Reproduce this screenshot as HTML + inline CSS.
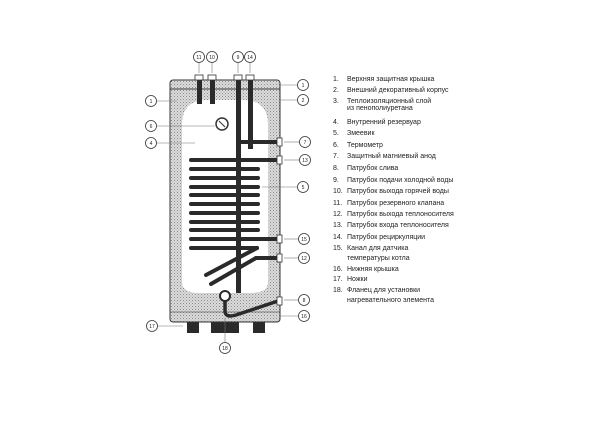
<!DOCTYPE html>
<html><head><meta charset="utf-8"><style>
html,body{margin:0;padding:0;background:#fff;width:600px;height:445px;overflow:hidden}
svg{display:block}
text{font-family:"Liberation Sans","DejaVu Sans",sans-serif}
</style></head><body>
<svg width="600" height="445" viewBox="0 0 600 445" xmlns="http://www.w3.org/2000/svg">
<defs>
<pattern id="dots" width="3" height="3" patternUnits="userSpaceOnUse">
<rect width="3" height="3" fill="#dcdcdc"/><rect x="0" y="0" width="1" height="1" fill="#8a8a8a"/><rect x="1.5" y="1.5" width="1" height="1" fill="#a0a0a0"/>
</pattern>
</defs>
<rect x="187" y="318" width="12" height="15" fill="#2a2a2a"/>
<rect x="211" y="318" width="28" height="15" fill="#2a2a2a"/>
<rect x="253" y="318" width="12" height="15" fill="#2a2a2a"/>
<rect x="170" y="80" width="110" height="242" rx="3" fill="url(#dots)" stroke="#333" stroke-width="1"/>
<line x1="170" y1="89" x2="280" y2="89" stroke="#333" stroke-width="1"/>
<line x1="170" y1="312" x2="280" y2="312" stroke="#333" stroke-width="0.6"/>
<path d="M182 125 Q182 100 207 100 L243 100 Q268 100 268 125 L268 282 Q268 293 250 293 L200 293 Q182 293 182 282 Z" fill="#fff"/>
<g fill="#2a2a2a">
<rect x="197" y="77" width="5" height="27"/>
<rect x="210" y="77" width="5" height="27"/>
<rect x="236" y="77" width="5" height="216"/>
<rect x="248" y="77" width="5" height="72"/>
<rect x="238" y="140" width="40" height="4"/>
</g>
<g fill="#fff" stroke="#333" stroke-width="0.8">
<rect x="195" y="75" width="8" height="5"/><rect x="208" y="75" width="8" height="5"/>
<rect x="234" y="75" width="8" height="5"/><rect x="246" y="75" width="8" height="5"/>
</g>
<circle cx="222" cy="124" r="6" fill="#fff" stroke="#333" stroke-width="1.5"/>
<line x1="219" y1="121" x2="225" y2="127" stroke="#333" stroke-width="1"/>
<g stroke="#2a2a2a" stroke-width="4" stroke-linecap="round">
<line x1="191" y1="160" x2="278" y2="160"/>
<line x1="191" y1="169" x2="258" y2="169"/>
<line x1="191" y1="178" x2="258" y2="178"/>
<line x1="191" y1="187" x2="258" y2="187"/>
<line x1="191" y1="195" x2="258" y2="195"/>
<line x1="191" y1="204" x2="258" y2="204"/>
<line x1="191" y1="213" x2="258" y2="213"/>
<line x1="191" y1="222" x2="258" y2="222"/>
<line x1="191" y1="230" x2="258" y2="230"/>
<line x1="191" y1="239" x2="278" y2="239"/>
<line x1="191" y1="248" x2="257" y2="248"/>
<line x1="257" y1="248" x2="206" y2="275"/>
<line x1="278" y1="258" x2="256" y2="258"/>
<line x1="256" y1="258" x2="211" y2="284"/>
</g>
<path d="M225 300 L225 312 Q226 318 236 315 L278 301" fill="none" stroke="#2a2a2a" stroke-width="3.5"/>
<circle cx="225" cy="296" r="5" fill="#fff" stroke="#2a2a2a" stroke-width="2"/>
<g fill="#fff" stroke="#333" stroke-width="0.8">
<rect x="277" y="138" width="5" height="8"/><rect x="277" y="156" width="5" height="8"/>
<rect x="277" y="235" width="5" height="8"/><rect x="277" y="254" width="5" height="8"/>
<rect x="277" y="297" width="5" height="8"/>
</g>
<g stroke="#777" stroke-width="0.6">
<line x1="157" y1="101" x2="177" y2="101"/>
<line x1="157" y1="126" x2="215" y2="126"/>
<line x1="157" y1="143" x2="195" y2="143"/>
<line x1="280" y1="85" x2="297" y2="85"/>
<line x1="280" y1="100" x2="297" y2="100"/>
<line x1="284" y1="142" x2="299" y2="142"/>
<line x1="284" y1="160" x2="299" y2="160"/>
<line x1="262" y1="187" x2="297" y2="187"/>
<line x1="284" y1="239" x2="298" y2="239"/>
<line x1="284" y1="258" x2="298" y2="258"/>
<line x1="284" y1="300" x2="298" y2="300"/>
<line x1="280" y1="316" x2="298" y2="316"/>
<line x1="158" y1="326" x2="183" y2="326"/>
<line x1="225" y1="318" x2="225" y2="342"/>
<line x1="199" y1="63" x2="199" y2="73"/><line x1="212" y1="63" x2="212" y2="73"/>
<line x1="238" y1="63" x2="238" y2="73"/><line x1="250" y1="63" x2="250" y2="73"/>
</g>
<g fill="#fff" stroke="#333" stroke-width="0.8">
<circle cx="151" cy="101" r="5.5"/><circle cx="151" cy="126" r="5.5"/><circle cx="151" cy="143" r="5.5"/>
<circle cx="303" cy="85" r="5.5"/><circle cx="303" cy="100" r="5.5"/><circle cx="305" cy="142" r="5.5"/>
<circle cx="305" cy="160" r="5.5"/><circle cx="303" cy="187" r="5.5"/><circle cx="304" cy="239" r="5.5"/>
<circle cx="304" cy="258" r="5.5"/><circle cx="304" cy="300" r="5.5"/><circle cx="304" cy="316" r="5.5"/>
<circle cx="152" cy="326" r="5.5"/><circle cx="225" cy="348" r="5.5"/>
<circle cx="199" cy="57" r="5.5"/><circle cx="212" cy="57" r="5.5"/><circle cx="238" cy="57" r="5.5"/><circle cx="250" cy="57" r="5.5"/>
</g>
<g font-size="5" text-anchor="middle" fill="#222">
<text x="151" y="103">1</text><text x="151" y="128">6</text><text x="151" y="145">4</text>
<text x="303" y="87">1</text><text x="303" y="102">2</text><text x="305" y="144">7</text>
<text x="305" y="162">13</text><text x="303" y="189">5</text><text x="304" y="241">15</text>
<text x="304" y="260">12</text><text x="304" y="302">8</text><text x="304" y="318">16</text>
<text x="152" y="328">17</text><text x="225" y="350">18</text>
<text x="199" y="59">11</text><text x="212" y="59">10</text><text x="238" y="59">9</text><text x="250" y="59">14</text>
</g>
<g font-size="7" fill="#222">
<text x="333" y="81">1.</text><text x="347" y="81">Верхняя защитная крышка</text>
<text x="333" y="92">2.</text><text x="347" y="92">Внешний декоративный корпус</text>
<text x="333" y="103">3.</text><text x="347" y="103">Теплоизоляционный слой</text>
<text x="347" y="110">из пенополиуретана</text>
<text x="333" y="124">4.</text><text x="347" y="124">Внутренний резервуар</text>
<text x="333" y="135">5.</text><text x="347" y="135">Змеевик</text>
<text x="333" y="147">6.</text><text x="347" y="147">Термометр</text>
<text x="333" y="158">7.</text><text x="347" y="158">Защитный магниевый анод</text>
<text x="333" y="170">8.</text><text x="347" y="170">Патрубок слива</text>
<text x="333" y="182">9.</text><text x="347" y="182">Патрубок подачи холодной воды</text>
<text x="333" y="193">10.</text><text x="347" y="193">Патрубок выхода горячей воды</text>
<text x="333" y="205">11.</text><text x="347" y="205">Патрубок резервного клапана</text>
<text x="333" y="216">12.</text><text x="347" y="216">Патрубок выхода теплоносителя</text>
<text x="333" y="227">13.</text><text x="347" y="227">Патрубок входа теплоносителя</text>
<text x="333" y="239">14.</text><text x="347" y="239">Патрубок рециркуляции</text>
<text x="333" y="250">15.</text><text x="347" y="250">Канал для датчика</text>
<text x="347" y="260">температуры котла</text>
<text x="333" y="271">16.</text><text x="347" y="271">Нижняя крышка</text>
<text x="333" y="281">17.</text><text x="347" y="281">Ножки</text>
<text x="333" y="292">18.</text><text x="347" y="292">Фланец для установки</text>
<text x="347" y="302">нагревательного элемента</text>
</g>
</svg>
</body></html>
